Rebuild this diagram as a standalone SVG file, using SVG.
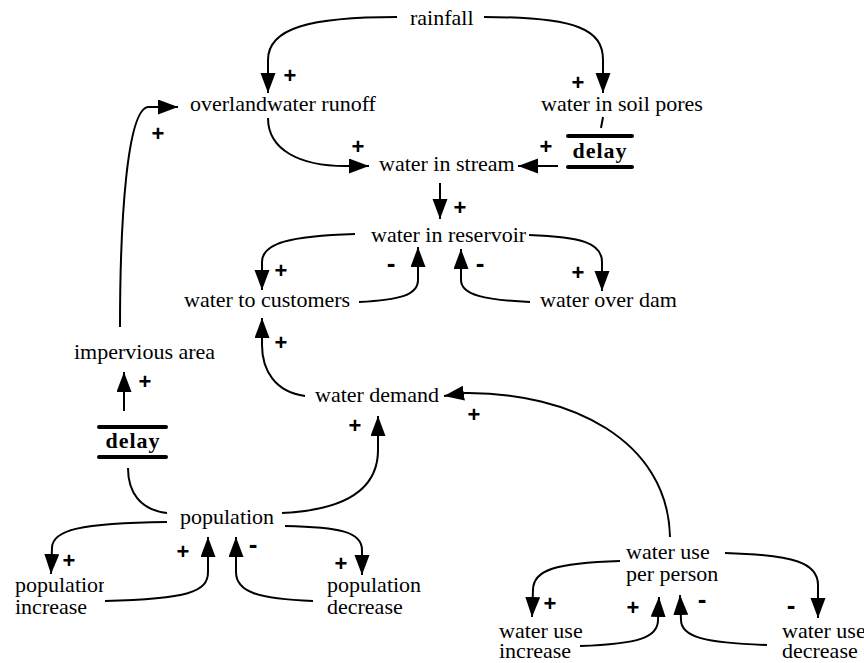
<svg xmlns="http://www.w3.org/2000/svg" width="864" height="663" viewBox="0 0 864 663">
  <style>
    .lbl { font-family: "Liberation Serif", "Times New Roman", serif; font-size: 22px; fill: #000; }
    .dly { font-family: "Liberation Serif", "Times New Roman", serif; font-size: 22px; font-weight: bold; fill: #000; letter-spacing: 1px; }
    .bar { stroke: #000; stroke-width: 4; stroke-linecap: round; }
    .lnk { fill: none; stroke: #000; stroke-width: 2; }
    .arr { marker-end: url(#head); }
    .sgn { font-family: "Liberation Sans", Arial, sans-serif; font-size: 22px; font-weight: bold; fill: #000; text-anchor: middle; }
    .neg { font-size: 26px; }
  </style>
  <defs>
    <marker id="head" markerUnits="userSpaceOnUse" markerWidth="22" markerHeight="16" refX="20" refY="7.5" orient="auto">
      <path d="M0,0 L20,7.5 L0,15 z" fill="#000"/>
    </marker>
    <clipPath id="clipInc">
      <rect x="0" y="570" width="104" height="30"/>
    </clipPath>
  </defs>
  <rect width="864" height="663" fill="#fff"/>

  <!-- causal links -->
  <g id="connectors">
    <path class="lnk arr" d="M397,17 C310,17 268,28 268,60 L268,93"/>
    <path class="lnk arr" d="M484,17 C578,17 603,30 603,60 L603,93"/>
    <path class="lnk arr" d="M120,327 C120,220 127,110 148,107 L178,107"/>
    <path class="lnk arr" d="M268,118 C268,150 300,166 345,166 L369,166"/>
    <path class="lnk" d="M603,117 L601,128"/>
    <path class="lnk arr" d="M558,166 L518,166"/>
    <path class="lnk arr" d="M440,183 L440,219"/>
    <path class="lnk arr" d="M355,234 C290,236 262,243 262,262 L262,290"/>
    <path class="lnk arr" d="M359,302 C400,300 418,295 418,280 L418,247"/>
    <path class="lnk arr" d="M530,302 C485,300 461,295 461,280 L461,249"/>
    <path class="lnk arr" d="M529,235 C582,237 602,243 602,262 L602,291"/>
    <path class="lnk arr" d="M305,396 C275,392 262,370 262,345 L262,318"/>
    <path class="lnk arr" d="M670,537 C668,440 570,392 465,393 L444,396"/>
    <path class="lnk arr" d="M282,513 C345,510 378,490 378,450 L378,416"/>
    <path class="lnk" d="M167,513 C140,510 128,492 128,468"/>
    <path class="lnk arr" d="M124,411 L124,372"/>
    <path class="lnk arr" d="M167,522 C80,523 52,530 52,548 L51,574"/>
    <path class="lnk arr" d="M105,601 C188,599 208,592 208,572 L208,537"/>
    <path class="lnk arr" d="M313,601 C258,599 236,592 236,572 L236,537"/>
    <path class="lnk arr" d="M285,526 C340,527 362,532 362,550 L362,575"/>
    <path class="lnk arr" d="M620,561 C555,563 533,570 533,590 L532,617"/>
    <path class="lnk arr" d="M580,646 C640,644 658,637 658,620 L659,597"/>
    <path class="lnk arr" d="M767,645 C705,643 681,637 681,620 L680,595"/>
    <path class="lnk arr" d="M725,553 C795,555 818,563 818,585 L818,618"/>

    <!-- link polarities -->
    <text class="sgn" x="290" y="83">+</text>
    <text class="sgn" x="578" y="90">+</text>
    <text class="sgn" x="158" y="141">+</text>
    <text class="sgn" x="358" y="154">+</text>
    <text class="sgn" x="546" y="154">+</text>
    <text class="sgn" x="460" y="215">+</text>
    <text class="sgn" x="281" y="278">+</text>
    <text class="sgn neg" x="391" y="272">-</text>
    <text class="sgn neg" x="480" y="272">-</text>
    <text class="sgn" x="578" y="280">+</text>
    <text class="sgn" x="281" y="350">+</text>
    <text class="sgn" x="474" y="422">+</text>
    <text class="sgn" x="145" y="389">+</text>
    <text class="sgn" x="355" y="433">+</text>
    <text class="sgn" x="69" y="568">+</text>
    <text class="sgn" x="183" y="559">+</text>
    <text class="sgn neg" x="253" y="553">-</text>
    <text class="sgn" x="341" y="571">+</text>
    <text class="sgn" x="550" y="611">+</text>
    <text class="sgn" x="633" y="615">+</text>
    <text class="sgn neg" x="702" y="608">-</text>
    <text class="sgn neg" x="791" y="614">-</text>
  </g>

  <g id="rainfall"><text class="lbl" x="410" y="25">rainfall</text></g>
  <g id="overland-runoff"><text class="lbl" x="190" y="111">overlandwater runoff</text></g>
  <g id="soil-pores"><text class="lbl" x="541" y="111">water in soil pores</text></g>
  <g id="soil-delay">
    <line class="bar" x1="568" y1="136" x2="632" y2="136"/>
    <line class="bar" x1="568" y1="167" x2="632" y2="167"/>
    <text class="dly" x="600" y="158" text-anchor="middle">delay</text>
  </g>
  <g id="stream"><text class="lbl" x="379" y="171">water in stream</text></g>
  <g id="reservoir"><text class="lbl" x="371" y="242">water in reservoir</text></g>
  <g id="customers"><text class="lbl" x="184" y="307">water to customers</text></g>
  <g id="over-dam"><text class="lbl" x="540" y="307">water over dam</text></g>
  <g id="demand"><text class="lbl" x="315" y="402">water demand</text></g>
  <g id="impervious"><text class="lbl" x="74" y="359">impervious area</text></g>
  <g id="growth-delay">
    <line class="bar" x1="99" y1="427" x2="166" y2="427"/>
    <line class="bar" x1="99" y1="457" x2="166" y2="457"/>
    <text class="dly" x="133" y="448" text-anchor="middle">delay</text>
  </g>
  <g id="population"><text class="lbl" x="180" y="524">population</text></g>
  <g id="pop-increase">
    <text class="lbl" x="15" y="592"><tspan clip-path="url(#clipInc)">population</tspan><tspan x="15" dy="22">increase</tspan></text>
  </g>
  <g id="pop-decrease">
    <text class="lbl" x="327" y="592">population<tspan x="327" dy="22">decrease</tspan></text>
  </g>
  <g id="use-per-person">
    <text class="lbl" x="626" y="559">water use<tspan x="626" dy="22">per person</tspan></text>
  </g>
  <g id="use-increase">
    <text class="lbl" x="499" y="638">water use<tspan x="499" dy="20">increase</tspan></text>
  </g>
  <g id="use-decrease">
    <text class="lbl" x="782" y="638">water use<tspan x="782" dy="20">decrease</tspan></text>
  </g>
</svg>
